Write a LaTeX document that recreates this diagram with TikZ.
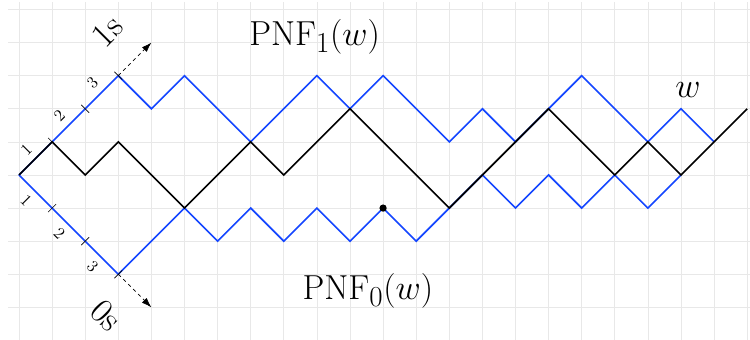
\documentclass[tikz,border=0pt]{standalone}
\usetikzlibrary{arrows.meta}
\definecolor{pathblue}{RGB}{20,70,255}
\definecolor{gridgray}{RGB}{232,232,232}
\begin{document}
\begin{tikzpicture}[x=1cm,y=1cm,
  gridline/.style={draw=gridgray, line width=0.6pt},
  wpath/.style={draw=black, line width=1.4pt},
  pnfpath/.style={draw=pathblue, line width=1.4pt},
  tickmark/.style={draw=black, line width=0.5pt},
  ticklabel/.style={font=\Large, inner sep=0pt},
  biglabel/.style={font=\Huge, scale=1.2, inner sep=0pt},
  dirarrow/.style={dashed, line width=0.6pt, -{Latex[length=3mm,width=2mm]}}]
\useasboundingbox (-0.574,-4.985) rectangle (22.085,5.287);
\draw[gridline] (-0.33,-5.5) grid (22.5,5.23);
% PNF_1(w)
\draw[pnfpath] (0,0) -- (3,3) -- (4,2) -- (5,3) -- (7,1) -- (9,3) -- (10,2) -- (11,3) -- (13,1) -- (14,2) -- (15,1) -- (16,2) -- (17,3) -- (19,1) -- (20,2) -- (21,1);
% PNF_0(w)
\draw[pnfpath] (0,0) -- (3,-3) -- (5,-1) -- (6,-2) -- (7,-1) -- (8,-2) -- (9,-1) -- (10,-2) -- (11,-1) -- (12,-2) -- (13,-1) -- (14,0) -- (15,-1) -- (16,0) -- (17,-1) -- (18,0) -- (19,-1) -- (20,0);
% w
\draw[wpath] (0,0) -- (1,1) -- (2,0) -- (3,1) -- (5,-1) -- (7,1) -- (8,0) -- (10,2) -- (13,-1) -- (16,2) -- (18,0) -- (19,1) -- (20,0) -- (22,2);
\fill (11,-1) circle (0.11);
% ticks and labels
\foreach \k in {1,2,3} {
  \draw[tickmark] (\k-0.12,\k+0.12) -- (\k+0.12,\k-0.12);
  \draw[tickmark] (\k-0.12,-\k-0.12) -- (\k+0.12,-\k+0.12);
  \node[ticklabel, rotate=45] (up\k) at (\k-0.78,\k-0.22) {\k};
  \node[ticklabel, rotate=-45] (dn\k) at (\k-0.78,-\k+0.22) {\k};
}
% direction arrows
\coordinate (onestart) at (3,3);
\coordinate (onetip) at (4,4);
\coordinate (zerostart) at (3,-3);
\coordinate (zerotip) at (4,-4);
\draw[dirarrow] (onestart) -- (onetip);
\draw[dirarrow] (zerostart) -- (zerotip);
\node[biglabel, rotate=45] (ones) at (2.66,4.35) {1s};
\node[biglabel, rotate=-45] (zeros) at (2.64,-4.25) {0s};
\node[biglabel] (pnfone) at (8.93,4.17) {$\mathrm{PNF}_1(w)$};
\node[biglabel] (pnfzero) at (10.54,-3.5) {$\mathrm{PNF}_0(w)$};
\node[biglabel] (wlabel) at (20.21,2.57) {$w$};
\end{tikzpicture}
\end{document}
